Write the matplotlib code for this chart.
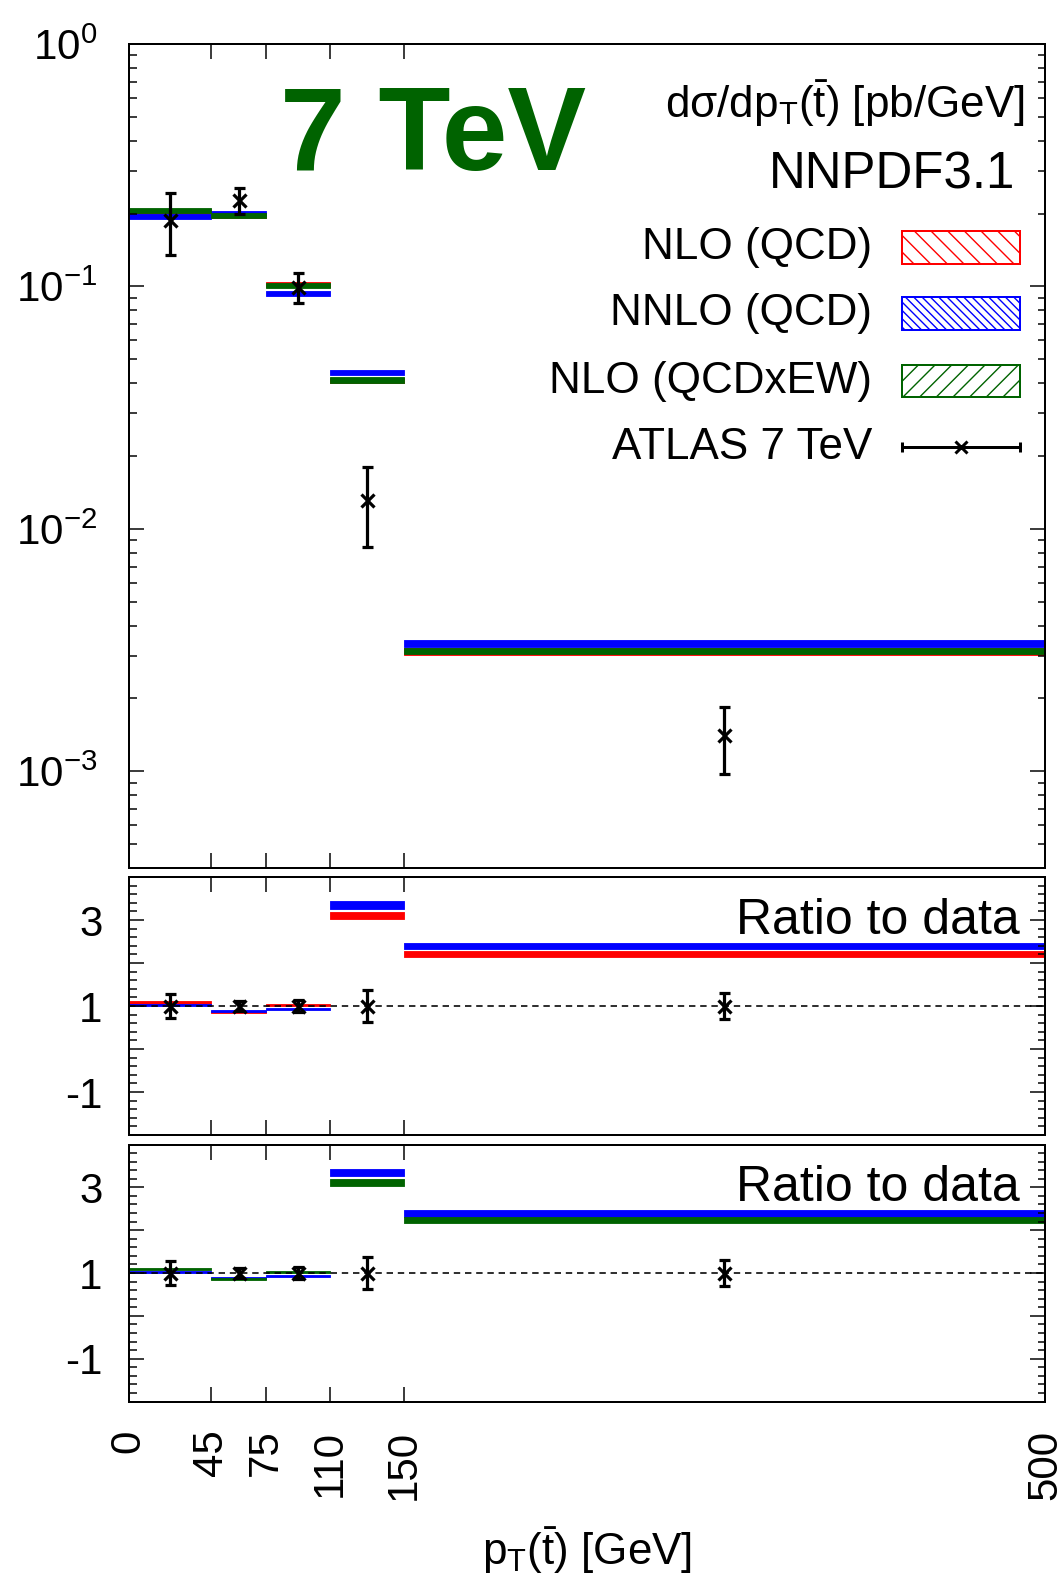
import numpy as np
import matplotlib
matplotlib.use("Agg")
import matplotlib.pyplot as plt
from matplotlib.patches import Rectangle
from matplotlib.lines import Line2D
from matplotlib.ticker import FixedLocator, MultipleLocator, FuncFormatter, LogFormatterSciNotation, NullLocator, LogLocator

plt.rcParams['font.family'] = ['Liberation Sans', 'DejaVu Sans']
plt.rcParams['mathtext.fontset'] = 'custom'
plt.rcParams['mathtext.rm'] = 'Liberation Sans'
plt.rcParams['mathtext.it'] = 'Liberation Sans'
plt.rcParams['mathtext.default'] = 'regular'
plt.rcParams['axes.unicode_minus'] = False
plt.rcParams['hatch.linewidth'] = 1.0

# ---- binning in pT(tbar) [GeV] ----
bin_edges = [0, 45, 75, 110, 150, 500]
tick_labels = ['0', '45', '75', '110', '150', '500']

# ---- ATLAS 7 TeV measurement [pb/GeV] ----
data_val = [0.1888, 0.228, 0.0997, 0.0132, 1.413e-3]
data_err = [0.054, 0.028, 0.014, 0.0048, 0.435e-3]

# ---- theory predictions [pb/GeV] ----
nlo_qcd = [0.2039, 0.1961, 0.1017, 0.04092, 3.123e-3]
nnlo_qcd = [0.1945, 0.2006, 0.0937, 0.04422, 3.377e-3]
nlo_qcdew = [0.2058, 0.1961, 0.1012, 0.04118, 3.151e-3]
rel_unc = [0.025, 0.025, 0.025, 0.025, 0.03]

RED = (1.0, 0.0, 0.0)
BLUE = (0.0, 0.0, 1.0)
GREEN = (0.0, 0.39, 0.0)

W, H = 1060, 1576
fig = plt.figure(figsize=(W / 100, H / 100), dpi=100)


def frac(l, t, r, b):
    return [l / W, 1 - b / H, (r - l) / W, (b - t) / H]


ax0 = fig.add_axes(frac(128.6, 44, 1045, 868))
ax1 = fig.add_axes(frac(128.6, 877, 1045, 1135))
ax2 = fig.add_axes(frac(128.6, 1144.5, 1045, 1401.6))

edges = np.array(bin_edges, dtype=float)
centers = 0.5 * (edges[:-1] + edges[1:])
dv = np.array(data_val)
de = np.array(data_err)
unc = np.array(rel_unc)

PX = 0.72  # points per pixel at 100 dpi


def draw_bands(ax, vals, color, scale=None):
    vals = np.array(vals)
    if scale is not None:
        vals = vals / scale
    for i in range(len(vals)):
        lo = vals[i] * (1 - unc[i])
        hi = vals[i] * (1 + unc[i])
        ax.fill_between([edges[i], edges[i + 1]], [lo, lo], [hi, hi],
                        facecolor=color, edgecolor=color, linewidth=0.6)


def draw_data(ax, y, yerr):
    ax.errorbar(centers, y, yerr=yerr, fmt='x', color='k', ms=13 * PX,
                mew=3.2 * PX, elinewidth=3.2 * PX, capsize=5.5 * PX,
                capthick=3 * PX, zorder=10)


def style_axes(ax):
    ax.set_xlim(0, 500)
    ax.xaxis.set_major_locator(FixedLocator(bin_edges))
    ax.xaxis.set_minor_locator(NullLocator())
    ax.tick_params(which='both', direction='in', top=True, right=True,
                   labelsize=42 * PX)
    ax.tick_params(which='major', length=15 * PX, width=1.5 * PX)
    ax.tick_params(which='minor', length=7.5 * PX, width=1.5 * PX)
    for s in ax.spines.values():
        s.set_linewidth(2 * PX)


# ---- top panel: absolute distribution ----
draw_bands(ax0, nlo_qcd, RED)
draw_bands(ax0, nnlo_qcd, BLUE)
draw_bands(ax0, nlo_qcdew, GREEN)
draw_data(ax0, dv, de)
ax0.set_yscale('log')
ax0.set_ylim(4.0e-4, 1.0)
style_axes(ax0)
ax0.yaxis.set_major_locator(LogLocator(base=10, numticks=10))
ax0.yaxis.set_minor_locator(LogLocator(base=10, subs=np.arange(2, 10), numticks=10))
ax0.yaxis.set_major_formatter(LogFormatterSciNotation())
ax0.tick_params(axis='y', pad=31 * PX)
ax0.tick_params(axis='x', labelbottom=False)

ax0.text(0.3327, 0.8472, '7 TeV', transform=ax0.transAxes, ha='center',
         va='baseline', fontsize=118 * PX, fontweight='bold', color=GREEN)
ax0.text(0.9782, 0.9278, 'dσ/dp$_\\mathregular{T}$($\\bar{\\mathregular{t}}$) [pb/GeV]',
         transform=ax0.transAxes, ha='right', va='center', fontsize=44 * PX)
ax0.text(0.9673, 0.841, 'NNPDF3.1', transform=ax0.transAxes, ha='right',
         va='center', fontsize=51 * PX)

# legend drawn as text + swatches
leg_labels = ['NLO (QCD)', 'NNLO (QCD)', 'NLO (QCDxEW)', 'ATLAS 7 TeV']
leg_colors = [RED, BLUE, GREEN]
leg_hatch = ['\\\\', '\\\\\\\\', '//']
row_y = [0.7536, 0.6729, 0.5910, 0.5109]
bx0, bw, bh = 0.8439, 0.1288, 0.0400
for k, lab in enumerate(leg_labels):
    ax0.text(0.8112, row_y[k], lab, transform=ax0.transAxes, ha='right',
             va='center', fontsize=44 * PX)
    if k < 3:
        ax0.add_patch(Rectangle((bx0, row_y[k] - bh / 2), bw, bh,
                                transform=ax0.transAxes, facecolor='white',
                                edgecolor=leg_colors[k], hatch=leg_hatch[k],
                                linewidth=2 * PX))
    else:
        ax0.add_line(Line2D([bx0, bx0 + bw], [row_y[k]] * 2,
                            transform=ax0.transAxes, color='k', lw=3 * PX))
        ax0.plot([bx0, bx0 + bw], [row_y[k]] * 2, '|',
                 transform=ax0.transAxes, color='k', ms=10.5 * PX, mew=3 * PX)
        ax0.plot([bx0 + bw / 2], [row_y[k]], 'x', transform=ax0.transAxes,
                 color='k', ms=12 * PX, mew=3 * PX)


# ---- ratio panels ----
def ratio_panel(ax, series, colors):
    for vals, c in zip(series, colors):
        draw_bands(ax, vals, c, scale=dv)
    ax.axhline(1.0, color='k', ls=(0, (4, 3)), lw=1.6 * PX, zorder=5)
    draw_data(ax, np.ones_like(dv), de / dv)
    ax.set_ylim(-2.0, 4.0)
    style_axes(ax)
    ax.yaxis.set_major_locator(FixedLocator([-2, -1, 0, 1, 2, 3, 4]))
    ax.yaxis.set_minor_locator(MultipleLocator(0.2))
    ax.yaxis.set_major_formatter(FuncFormatter(
        lambda v, p: '%d' % round(v) if round(v) in (-1, 1, 3) else ''))
    ax.tick_params(axis='y', pad=26 * PX)
    ax.text(0.9727, 0.83, 'Ratio to data', transform=ax.transAxes,
            ha='right', va='center', fontsize=50 * PX)


ratio_panel(ax1, [nlo_qcd, nnlo_qcd], [RED, BLUE])
ax1.tick_params(axis='x', labelbottom=False)
ratio_panel(ax2, [nnlo_qcd, nlo_qcdew], [BLUE, GREEN])
ax2.set_xticklabels(tick_labels, rotation=90)
ax2.tick_params(axis='x', pad=28 * PX)
ax2.set_xlabel('p$_\\mathregular{T}$($\\bar{\\mathregular{t}}$) [GeV]',
               fontsize=44 * PX, labelpad=26 * PX)

fig.savefig('out.png', dpi=100)
